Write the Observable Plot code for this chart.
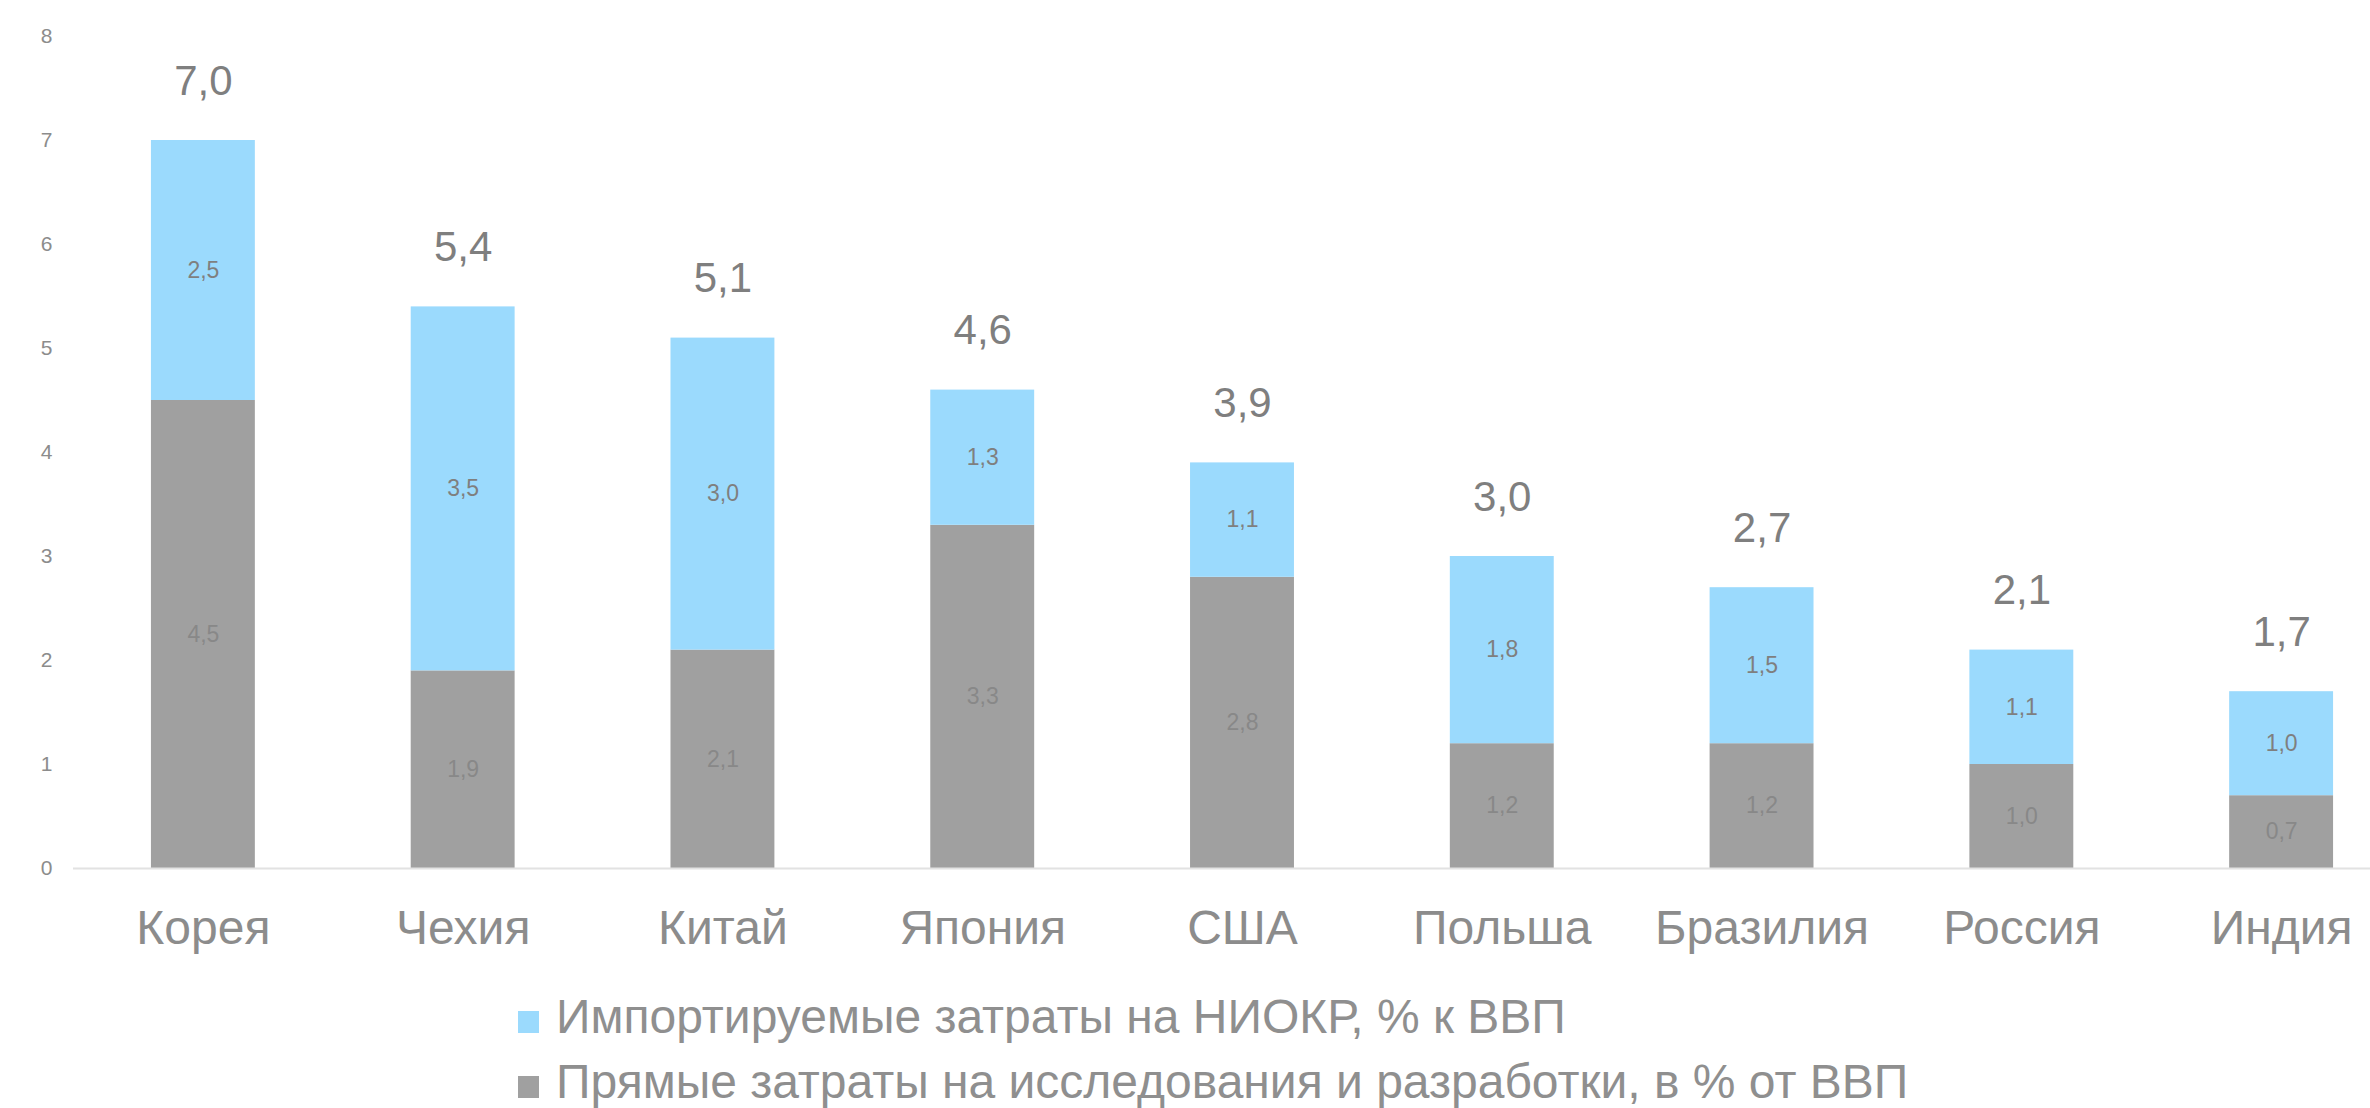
<!DOCTYPE html>
<html>
<head>
<meta charset="utf-8">
<script src="https://cdn.jsdelivr.net/npm/d3@7"></script>
<script src="https://cdn.jsdelivr.net/npm/@observablehq/plot@0.6"></script>
<style>
  html, body { margin: 0; padding: 0; background: #fff; }
  body { width: 2370px; height: 1108px; overflow: hidden; font-family: "Liberation Sans", Arial, sans-serif; }
  #legend { position: relative; height: 148px; }
  .row { position: absolute; left: 518px; height: 65px; line-height: 65px; font-size: 48px; color: #8f8f8f; white-space: nowrap; }
  .sw { display: inline-block; width: 21px; height: 22px; margin-right: 17px; vertical-align: 0px; }
</style>
</head>
<body>
<div id="chart"></div>
<div id="legend"></div>
<script>
const countries = ["Корея", "Чехия", "Китай", "Япония", "США", "Польша", "Бразилия", "Россия", "Индия"];
const direct    = [4.5, 1.9, 2.1, 3.3, 2.8, 1.2, 1.2, 1.0, 0.7];
const imported  = [2.5, 3.5, 3.0, 1.3, 1.1, 1.8, 1.5, 1.1, 1.0];
const totals    = [7.0, 5.4, 5.1, 4.6, 3.9, 3.0, 2.7, 2.1, 1.7];
const yTicks    = [0, 1, 2, 3, 4, 5, 6, 7, 8];
const seriesNames = {
  imported: "Импортируемые затраты на НИОКР, % к ВВП",
  direct: "Прямые затраты на исследования и разработки, в % от ВВП"
};

const BLUE = "#9bdafd";
const GRAY = "#a0a0a0";
const fmt = v => v.toFixed(1).replace(".", ",");

const long = countries.flatMap((c, i) => [
  {country: c, series: "direct", value: direct[i]},
  {country: c, series: "imported", value: imported[i]}
]);
const barFill = d => d.series === "direct" ? GRAY : BLUE;
const labelFill = d => d.series === "direct" ? "#888888" : "#7f7f7f";

const chart = Plot.plot({
  width: 2370,
  height: 960,
  marginLeft: 73,
  marginRight: 0,
  marginTop: 36,
  marginBottom: 92,
  style: {fontFamily: "'Liberation Sans', Arial, sans-serif", background: "white"},
  x: {domain: countries, range: [73, 2411], paddingInner: 0.6, paddingOuter: 0.3, round: false, label: null},
  y: {domain: [0, 8], label: null},
  color: {type: "identity"},
  marks: [
    Plot.barY(long, {x: "country", y: "value", z: "series", fill: barFill}),
    Plot.ruleY([0], {stroke: "#e2e2e2", strokeWidth: 2}),
    Plot.text(long, Plot.stackY({x: "country", y: "value", z: "series", text: d => fmt(d.value), fill: labelFill, fontSize: 23})),
    Plot.text(countries, {x: d => d, y: (d, i) => totals[i], text: (d, i) => fmt(totals[i]), lineAnchor: "bottom", dy: -46, fontSize: 42, fill: "#7f7f7f"}),
    Plot.axisY({ticks: yTicks, tickSize: 0, tickPadding: 21, fontSize: 21, color: "#8c8c8c", label: null}),
    Plot.axisX({tickSize: 0, tickPadding: 41, fontSize: 48, color: "#8c8c8c", label: null})
  ]
});
document.getElementById("chart").appendChild(chart);

const legend = document.getElementById("legend");
[["imported", BLUE, 24], ["direct", GRAY, 89]].forEach(([key, color, top]) => {
  const row = document.createElement("div");
  row.className = "row";
  row.style.top = top + "px";
  const sw = document.createElement("span");
  sw.className = "sw";
  sw.style.background = color;
  row.appendChild(sw);
  row.appendChild(document.createTextNode(seriesNames[key]));
  legend.appendChild(row);
});
</script>
</body>
</html>
